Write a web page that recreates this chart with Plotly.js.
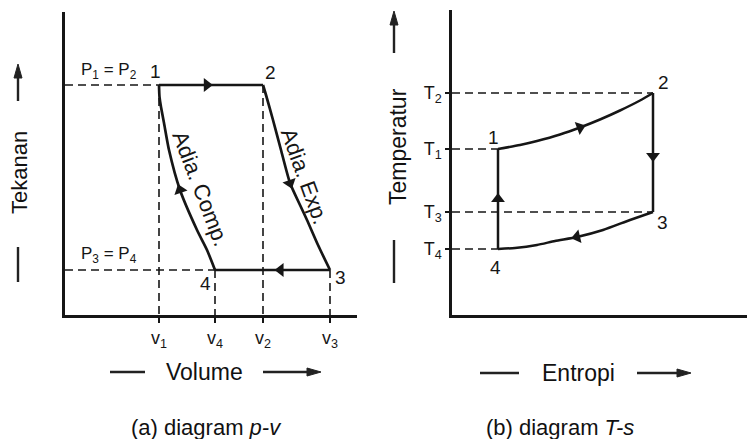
<!DOCTYPE html>
<html>
<head>
<meta charset="utf-8">
<script src="https://cdn.plot.ly/plotly-3.0.1.min.js"></script>
<style>html,body{margin:0;padding:0;background:#fff}#chart{width:747px;height:439px}</style>
</head>
<body>
<div id="chart"></div>
<script>
// ---------- data ----------
// (a) p-v diagram  (arbitrary units)
const pvStates = ['1', '2', '3', '4'];
const pvV = [94, 198, 265, 150];          // volume at states 1..4
const pvP = [230, 230, 45, 45];           // pressure at states 1..4
const vTickText = ['v<sub>1</sub>', 'v<sub>4</sub>', 'v<sub>2</sub>', 'v<sub>3</sub>'];
const vTickVals = [94, 150, 198, 265];
// adiabatic expansion 2 -> 3
const expV = [198, 201, 208, 216, 225, 235, 242, 253, 265];
const expP = [230, 220, 195, 165, 132, 110, 95, 70, 45];
// adiabatic compression drawn 1 -> 4 (traversed 4 -> 1)
const compV = [94, 94.5, 96, 99, 104, 115, 132, 142, 150];
const compP = [230, 218, 208, 192, 165, 125, 85, 65, 45];

// (b) T-s diagram (arbitrary units)
const tsStates = ['1', '2', '3', '4'];
const tsS = [46, 201, 201, 46];           // entropy at states 1..4
const tsT = [166, 222, 103, 66];          // temperature at states 1..4
const tTickText = ['T<sub>2</sub>', 'T<sub>1</sub>', 'T<sub>3</sub>', 'T<sub>4</sub>'];
const tTickVals = [222, 166, 103, 66];
// heat addition 1 -> 2
const heatS = [46, 68, 85, 108, 128, 148, 168, 188, 201];
const heatT = [166, 170, 174, 180.5, 187.5, 195.5, 204.5, 214.5, 222];
// heat rejection 3 -> 4
const rejS = [201, 178, 151, 125, 103, 85, 63, 46];
const rejT = [103, 95, 85, 78, 74, 70, 67, 66];

// ---------- styling ----------
const INK = '#161616';
const FONT = 'Liberation Sans, Arial, sans-serif';
const W = 747, H = 439;
const PX = x => x / W;
const PY = y => 1 - y / H;

// dashed guides p-v
const gV = [0, pvV[0], null, 0, pvV[3], null,
            pvV[0], pvV[0], null, pvV[1], pvV[1], null,
            pvV[2], pvV[2], null, pvV[3], pvV[3]];
const gP = [pvP[0], pvP[0], null, pvP[3], pvP[3], null,
            pvP[0], 0, null, pvP[1], 0, null,
            pvP[2], 0, null, pvP[3], 0];
// dashed guides T-s
const gS = [0, tsS[1], null, 0, tsS[0], null, 0, tsS[2], null, 0, tsS[3]];
const gT = [tsT[1], tsT[1], null, tsT[0], tsT[0], null, tsT[2], tsT[2], null, tsT[3], tsT[3]];

// direction markers (1 data unit ~ 1 px on every axis here)
const ang = (dx, dy) => Math.atan2(dx, dy) * 180 / Math.PI;
function onSeg(xs, ys, i, j, f) {
  return {x: xs[i] + f * (xs[j] - xs[i]), y: ys[i] + f * (ys[j] - ys[i]), a: ang(xs[j] - xs[i], ys[j] - ys[i])};
}
function onCurve(xs, ys, k, rev) {
  const s = rev ? -1 : 1;
  return {x: xs[k], y: ys[k], a: ang(s * (xs[k + 1] - xs[k - 1]), s * (ys[k + 1] - ys[k - 1]))};
}
const pvArrows = [onSeg(pvV, pvP, 0, 1, 0.46), onCurve(expV, expP, 4, false),
                  onSeg(pvV, pvP, 2, 3, 0.43), onCurve(compV, compP, 5, true)];
const tsArrows = [onCurve(heatS, heatT, 4, false), onSeg(tsS, tsT, 1, 2, 0.53),
                  onCurve(rejS, rejT, 3, false), onSeg(tsS, tsT, 3, 0, 0.5)];

const solid = w => ({color: INK, width: w});
const curve = w => ({color: INK, width: w, shape: 'spline', smoothing: 0.6});
const traces = [
  {x: gV, y: gP, xaxis: 'x', yaxis: 'y', mode: 'lines', line: {color: INK, width: 1.6, dash: '8px,5px'}},
  {x: [pvV[0], pvV[1], null, pvV[2], pvV[3]], y: [pvP[0], pvP[1], null, pvP[2], pvP[3]], xaxis: 'x', yaxis: 'y', mode: 'lines', line: solid(2.7)},
  {x: expV, y: expP, xaxis: 'x', yaxis: 'y', mode: 'lines', line: curve(2.7)},
  {x: compV, y: compP, xaxis: 'x', yaxis: 'y', mode: 'lines', line: curve(2.7)},
  {x: pvArrows.map(a => a.x), y: pvArrows.map(a => a.y), xaxis: 'x', yaxis: 'y', mode: 'markers',
   marker: {symbol: 'triangle-up', size: 12, color: INK, angle: pvArrows.map(a => a.a), line: {width: 0}}},
  {x: gS, y: gT, xaxis: 'x2', yaxis: 'y2', mode: 'lines', line: {color: INK, width: 1.6, dash: '8px,5px'}},
  {x: [tsS[1], tsS[2], null, tsS[3], tsS[0]], y: [tsT[1], tsT[2], null, tsT[3], tsT[0]], xaxis: 'x2', yaxis: 'y2', mode: 'lines', line: solid(2.5)},
  {x: heatS, y: heatT, xaxis: 'x2', yaxis: 'y2', mode: 'lines', line: curve(2.5)},
  {x: rejS, y: rejT, xaxis: 'x2', yaxis: 'y2', mode: 'lines', line: curve(2.5)},
  {x: tsArrows.map(a => a.x), y: tsArrows.map(a => a.y), xaxis: 'x2', yaxis: 'y2', mode: 'markers',
   marker: {symbol: 'triangle-up', size: 12, color: INK, angle: tsArrows.map(a => a.a), line: {width: 0}}}
];
traces.forEach(t => { t.hoverinfo = 'skip'; });

const hand = (size) => ({family: FONT, size: size, color: INK});
const ann = [];

// state labels p-v
const pvShift = [[-4, 13], [7, 12], [10, -7], [-10, -13]];
pvStates.forEach((s, i) => ann.push({xref: 'x', yref: 'y', x: pvV[i], y: pvP[i], text: s, showarrow: false,
  xshift: pvShift[i][0], yshift: pvShift[i][1], font: hand(19)}));
ann.push({xref: 'x', yref: 'y', x: 0, y: pvP[0], text: 'P<sub>1</sub> = P<sub>2</sub>', showarrow: false,
  xanchor: 'left', yanchor: 'middle', xshift: 14, yshift: 14, font: hand(17)});
ann.push({xref: 'x', yref: 'y', x: 0, y: pvP[3], text: 'P<sub>3</sub> = P<sub>4</sub>', showarrow: false,
  xanchor: 'left', yanchor: 'middle', xshift: 14, yshift: 15, font: hand(17)});
ann.push({xref: 'x', yref: 'y', x: compV[5], y: compP[5], text: 'Adia. Comp.', showarrow: false,
  textangle: 69, xshift: 21, yshift: 2, font: hand(22)});
ann.push({xref: 'x', yref: 'y', x: expV[4], y: expP[4], text: 'Adia. Exp.', showarrow: false,
  textangle: 70, xshift: 15, yshift: 7, font: hand(22)});

// state labels T-s
const tsShift = [[-5, 12], [10, 10], [9, -10], [-3, -18]];
tsStates.forEach((s, i) => ann.push({xref: 'x2', yref: 'y2', x: tsS[i], y: tsT[i], text: s, showarrow: false,
  xshift: tsShift[i][0], yshift: tsShift[i][1], font: hand(19)}));

// axis titles and captions
const title = (x, y, t, size, angle) => ({xref: 'paper', yref: 'paper', x: PX(x), y: PY(y), text: t,
  xanchor: 'center', yanchor: 'middle', showarrow: false, textangle: angle || 0,
  font: {family: FONT, size: size, color: '#111'}});
ann.push(title(20, 173, 'Tekanan', 22, -90));
ann.push(title(398, 147, 'Temperatur', 23, -90));
ann.push(title(204, 372, 'Volume', 23));
ann.push(title(578, 373, 'Entropi', 23));
ann.push(title(206, 427, '(a) diagram <i>p-v</i>', 22));
ann.push(title(560, 427, '(b) diagram <i>T-s</i>', 22));

// arrows beside the axis titles, drawn as paper shapes
const pline = (x0, y0, x1, y1) => ({type: 'line', xref: 'paper', yref: 'paper', x0: PX(x0), y0: PY(y0), x1: PX(x1), y1: PY(y1),
  line: {color: '#222', width: 2.4}});
const ptri = (pts) => ({type: 'path', xref: 'paper', yref: 'paper',
  path: 'M' + pts.map(p => PX(p[0]) + ',' + PY(p[1])).join(' L') + ' Z', fillcolor: '#222', line: {color: '#222', width: 1}});
const shapes = [
  pline(18, 247, 18, 282), pline(18, 76, 18, 101), ptri([[18, 64], [14, 78], [22, 78]]),
  pline(394, 240, 394, 283), pline(394, 23, 394, 53), ptri([[394, 11], [390, 25], [398, 25]]),
  pline(110, 372, 145, 372), pline(263, 372, 310, 372), ptri([[321, 372], [307, 368], [307, 376]]),
  pline(480, 373, 519, 373), pline(637, 373, 680, 373), ptri([[691, 373], [677, 369], [677, 377]])
];

const axBase = {showgrid: false, zeroline: false, showline: true, linecolor: INK, linewidth: 2.6,
  fixedrange: true, tickfont: {family: FONT, size: 18, color: INK}};

const layout = {
  width: W, height: H, margin: {l: 0, r: 0, t: 0, b: 0},
  paper_bgcolor: '#fff', plot_bgcolor: '#fff', showlegend: false,
  xaxis: Object.assign({}, axBase, {domain: [PX(65), PX(357)], range: [0, 292], anchor: 'y',
    tickvals: vTickVals, ticktext: vTickText, ticks: 'outside', ticklen: 5, tickwidth: 1.5, tickcolor: INK}),
  yaxis: Object.assign({}, axBase, {domain: [PY(315), PY(12)], range: [0, 303], anchor: 'x',
    showticklabels: false, ticks: ''}),
  xaxis2: Object.assign({}, axBase, {domain: [PX(452), 1], range: [0, 295], anchor: 'y2',
    showticklabels: false, ticks: ''}),
  yaxis2: Object.assign({}, axBase, {domain: [PY(315), PY(10)], range: [0, 305], anchor: 'x2',
    tickvals: tTickVals, ticktext: tTickText, ticks: 'outside', ticklen: 4, tickwidth: 1.5, tickcolor: INK}),
  annotations: ann,
  shapes: shapes
};

Plotly.newPlot('chart', traces, layout, {staticPlot: true, displayModeBar: false});
</script>
</body>
</html>
